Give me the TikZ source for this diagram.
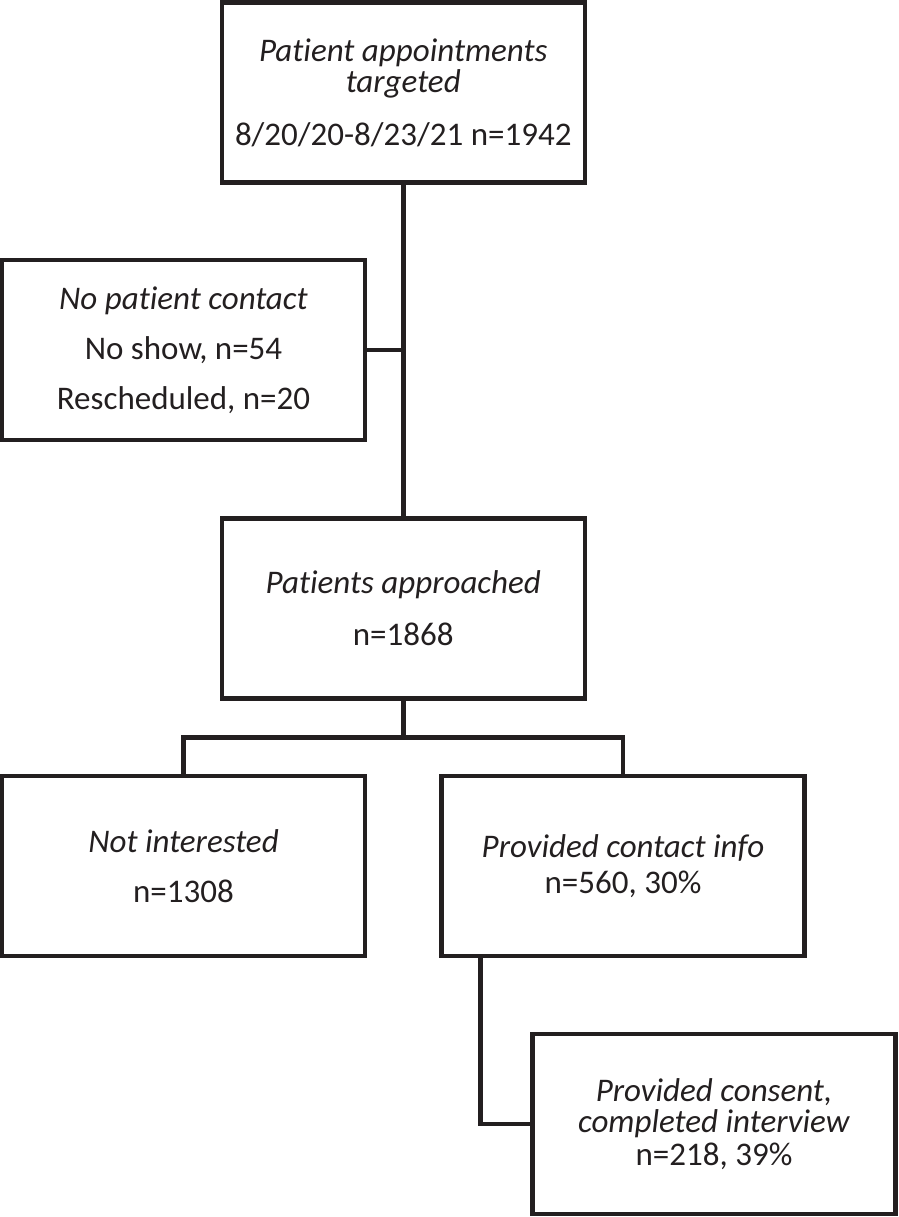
\documentclass[tikz,border=0pt]{standalone}
\usepackage{fontspec}
\setmainfont[Ligatures={NoCommon}]{Carlito}
\usepackage{xcolor}
\definecolor{ink}{RGB}{35,31,32}

\tikzset{
  box/.style={draw=ink, line width=4.5pt, minimum width=363pt, minimum height=180pt,
    inner sep=0pt, outer sep=0pt, align=center, text=ink,
    font=\fontsize{33}{40}\selectfont},
  link/.style={draw=ink, line width=4.5pt, line join=miter}
}

\begin{document}
\begin{tikzpicture}[x=1pt,y=-1pt]
        \useasboundingbox (0,0) rectangle (898,1217);
        % boxes
        \node[box] (target) at (403.25,92.5)
            {\textit{Patient appointments}\\[-9pt]\textit{targeted}\\[13pt]8/20/20-8/23/21 n=1942};
        \node[box] (nocontact) at (183.5,350)
            {\textit{No patient contact}\\[10pt]No show, n=54\\[10pt]Rescheduled, n=20};
        \node[box] (approached) at (403.25,608.5)
            {\textit{Patients approached}\\[12pt]n=1868};
        \node[box] (notint) at (183.5,866)
            {\textit{Not interested}\\[10pt]n=1308};
        \node[box] (contact) at (623,866)
            {\textit{Provided contact info}\\[-4pt]n=560, 30\%};
        \node[box] (consent) at (714,1124)
            {\textit{Provided consent,}\\[-9pt]\textit{completed interview}\\[-7pt]n=218, 39\%};
        % connectors
        \coordinate (bus) at (403.25,737.5);
        \draw[link] (target.south) -- (approached.north);
        \draw[link] (nocontact.east) -- (nocontact.east -| target.south);
        \draw[link] (approached.south) -- (bus);
        \draw[link] (notint.north) |- (bus) -| (contact.north);
        \draw[link] ([xshift=39pt]contact.south west) |- (consent.west);
\end{tikzpicture}
\end{document}
